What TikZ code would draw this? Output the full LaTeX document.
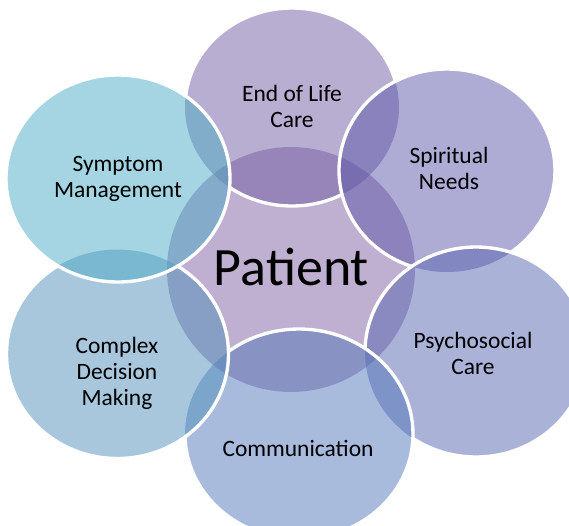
\documentclass[tikz,border=0pt]{standalone}
\usepackage{fontspec}
\setmainfont{Carlito}
% clip away the inside of an ellipse (drawn the other way round)
\newcommand{\outside}[3]{%
  \clip (0,0) -- (569,0) -- (569,526) -- (0,526) -- cycle
    (#1) ++(#2,0) arc[start angle=0,end angle=-360,x radius=#2,y radius=#3];}
\begin{document}
\begin{tikzpicture}[x=0.75pt,y=-0.75pt,
    bubble/.style={fill opacity=0.5},
    rim/.style={draw=white,line width=2.5pt},
    txt/.style={align=center,inner sep=0pt,font=\fontsize{17.6}{19.5}\selectfont}]
  % colors
  \definecolor{cPat}{RGB}{127,95,161}
  \definecolor{cEol}{RGB}{113,93,163}
  \definecolor{cSpi}{RGB}{93,87,169}
  \definecolor{cPsy}{RGB}{87,101,177}
  \definecolor{cCom}{RGB}{83,119,185}
  \definecolor{cCdm}{RGB}{81,143,187}
  \definecolor{cSym}{RGB}{75,171,197}
  % frame
  \clip (0,0) rectangle (569,526);
  % centres
  \coordinate (pat) at (291,269.5);
  \coordinate (eol) at (292,107);
  \coordinate (spi) at (447,170.5);
  \coordinate (psy) at (476,352);
  \coordinate (com) at (299,434);
  \coordinate (cdm) at (117.5,354);
  \coordinate (sym) at (118,178.5);
  % patient
  \fill[bubble,cPat] (pat) ellipse [x radius=124,y radius=122.5];
  % end of life care
  \fill[bubble,cEol] (eol) ellipse [x radius=107,y radius=99];
  \begin{scope}
    \outside{spi}{108}{101.5}
    \outside{sym}{112}{103.5}
    \draw[rim] (eol) ellipse [x radius=107,y radius=99];
  \end{scope}
  % spiritual needs
  \fill[bubble,cSpi] (spi) ellipse [x radius=108,y radius=101.5];
  \begin{scope}
    \outside{psy}{111}{105}
    \draw[rim] (spi) ellipse [x radius=108,y radius=101.5];
  \end{scope}
  % psychosocial care
  \fill[bubble,cPsy] (psy) ellipse [x radius=111,y radius=105];
  \begin{scope}
    \outside{com}{114}{105}
    \draw[rim] (psy) ellipse [x radius=111,y radius=105];
  \end{scope}
  % communication
  \fill[bubble,cCom] (com) ellipse [x radius=114,y radius=105];
  \begin{scope}
    \outside{cdm}{111}{104.5}
    \draw[rim] (com) ellipse [x radius=114,y radius=105];
  \end{scope}
  % complex decision making
  \fill[bubble,cCdm] (cdm) ellipse [x radius=111,y radius=104.5];
  \begin{scope}
    \outside{sym}{112}{103.5}
    \draw[rim] (cdm) ellipse [x radius=111,y radius=104.5];
  \end{scope}
  % symptom management
  \fill[bubble,cSym] (sym) ellipse [x radius=112,y radius=103.5];
  \draw[rim] (sym) ellipse [x radius=112,y radius=103.5];
  % labels
  \node[txt] (tEol) at (292,106.5) {End of Life\\Care};
  \node[txt] (tSpi) at (449,168) {Spiritual\\Needs};
  \node[txt] (tSym) at (118,179) {Symptom\\Management};
  \node[txt] (tPsy) at (473,353) {Psychosocial\\Care};
  \node[txt] (tCdm) at (117,373) {Complex\\Decision\\Making};
  \node[txt,anchor=base] (tCom) at (298,456) {Communication};
  \node[inner sep=0pt,anchor=base,font=\fontsize{40.5}{48}\selectfont] (tPat) at (291.5,285) {Patient};
\end{tikzpicture}
\end{document}
